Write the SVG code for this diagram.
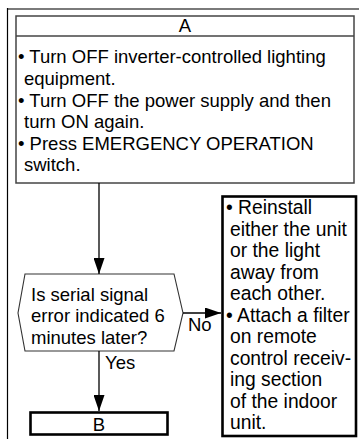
<svg xmlns="http://www.w3.org/2000/svg" width="359" height="439" viewBox="0 0 359 439">
<style>
text{font-family:"Liberation Sans",Arial,sans-serif;font-size:18.5px;fill:#000}
.c{text-anchor:middle}
.r{font-size:19.3px}
.conn{stroke:#000;stroke-width:1.3;fill:none}
</style>
<defs>
<marker id="ah" markerUnits="userSpaceOnUse" markerWidth="17" markerHeight="11" refX="16" refY="5.5" orient="auto">
<path d="M0,0 L16,5.5 L0,11 Z" fill="#000"/>
</marker>
</defs>
<rect width="359" height="439" fill="#fff"/>
<g id="frame">
<line x1="7" y1="9" x2="359" y2="9" stroke="#7a7a7a" stroke-width="2"/>
<line x1="7.5" y1="8" x2="7.5" y2="439" stroke="#000" stroke-width="1.2"/>
</g>
<g id="nodeA">
<rect x="16" y="16" width="338" height="167" fill="#fff" stroke="#444" stroke-width="1.5"/>
<line x1="16" y1="36" x2="354" y2="36" stroke="#444" stroke-width="1.5"/>
<text class="c" x="185" y="32">A</text>
<text x="18" y="63">• Turn OFF inverter-controlled lighting</text>
<text x="24" y="85">equipment.</text>
<text x="18" y="107">• Turn OFF the power supply and then</text>
<text x="24" y="128">turn ON again.</text>
<text x="18" y="150">• Press EMERGENCY OPERATION</text>
<text x="24" y="171">switch.</text>
</g>
<g id="decision">
<polygon points="25,274 174,274 183,313 174,351 25,351 18,313" fill="#fff" stroke="#333" stroke-width="1.1"/>
<text x="31" y="300.5">Is serial signal</text>
<text x="31" y="322">error indicated 6</text>
<text x="31" y="343.5">minutes later?</text>
</g>
<g id="action">
<rect x="222.5" y="196.5" width="133.5" height="239.5" fill="#fff" stroke="#000" stroke-width="2.6"/>
<text class="r" x="226" y="214">• Reinstall</text>
<text class="r" x="230" y="235.5">either the unit</text>
<text class="r" x="230" y="257">or the light</text>
<text class="r" x="230" y="278.5">away from</text>
<text class="r" x="230" y="300">each other.</text>
<text class="r" x="226" y="321.5">• Attach a filter</text>
<text class="r" x="230" y="343">on remote</text>
<text class="r" x="230" y="364.5">control receiv-</text>
<text class="r" x="230" y="386">ing section</text>
<text class="r" x="230" y="407.5">of the indoor</text>
<text class="r" x="230" y="429">unit.</text>
</g>
<g id="nodeB">
<rect x="30.5" y="412.5" width="137" height="22" fill="#fff" stroke="#000" stroke-width="2.6"/>
<text class="c" x="99" y="431">B</text>
</g>
<g id="connectors">
<line class="conn" x1="99" y1="183" x2="99" y2="274" marker-end="url(#ah)"/>
<line class="conn" x1="183" y1="313" x2="221" y2="313" marker-end="url(#ah)"/>
<line class="conn" x1="99" y1="351" x2="99" y2="411" marker-end="url(#ah)"/>
<text x="188" y="331">No</text>
<text x="105" y="369">Yes</text>
</g>
</svg>
